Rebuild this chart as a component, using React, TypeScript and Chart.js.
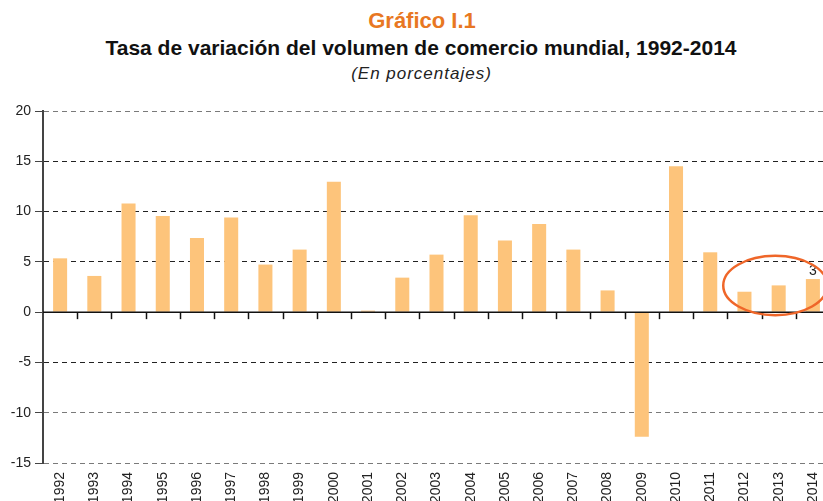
import React, { useEffect, useRef } from "react";
import { Chart, registerables } from "chart.js";

Chart.register(...registerables);

const years: string[] = [
  "1992", "1993", "1994", "1995", "1996", "1997", "1998", "1999", "2000", "2001", "2002", "2003",
  "2004", "2005", "2006", "2007", "2008", "2009", "2010", "2011", "2012", "2013", "2014",
];

const tradeGrowth: number[] = [
  5.35, 3.6, 10.8, 9.55, 7.38, 9.41, 4.73, 6.22, 12.96, 0.15, 3.43, 5.72,
  9.64, 7.12, 8.77, 6.22, 2.16, -12.39, 14.5, 5.95, 2.03, 2.66, 3.29,
];

const yTicks: number[] = [-15, -10, -5, 0, 5, 10, 15, 20];

const labelledIndex = 22;
const highlightCenterIndex = 20.9;
const highlightCenterValue = 2.65;

const FONT = '"Liberation Sans", Arial, Helvetica, sans-serif';

const overlayPlugin = {
  id: "overlay",
  afterDatasetsDraw(chart: any) {
    const { ctx, chartArea, scales } = chart;
    const xs = scales.x;
    const ys = scales.y;
    const y0 = ys.getPixelForValue(0);
    ctx.save();
    // zero line
    ctx.strokeStyle = "#111";
    ctx.lineWidth = 1.5;
    ctx.beginPath();
    ctx.moveTo(chartArea.left, y0);
    ctx.lineTo(chartArea.right, y0);
    ctx.stroke();
    // category ticks on zero line
    for (let i = 0; i < years.length; i++) {
      const xb = (xs.getPixelForValue(i) + xs.getPixelForValue(i + 1)) / 2;
      ctx.beginPath();
      ctx.moveTo(Math.round(xb) + 0.5, y0);
      ctx.lineTo(Math.round(xb) + 0.5, y0 + 7);
      ctx.stroke();
    }
    // data label
    const meta = chart.getDatasetMeta(0);
    const bar = meta.data[labelledIndex];
    if (bar) {
      ctx.fillStyle = "#222";
      ctx.font = `14px ${FONT}`;
      ctx.textAlign = "center";
      ctx.textBaseline = "bottom";
      ctx.fillText(String(Math.round(tradeGrowth[labelledIndex])), bar.x, bar.y - 1);
    }
    // highlight ellipse
    const cx = xs.getPixelForValue(highlightCenterIndex);
    const cy = ys.getPixelForValue(highlightCenterValue);
    const catW = Math.abs(xs.getPixelForValue(1) - xs.getPixelForValue(0));
    const rx = catW * 1.52;
    const ry = Math.abs(ys.getPixelForValue(0) - ys.getPixelForValue(2.95));
    ctx.strokeStyle = "#EF6629";
    ctx.lineWidth = 2.5;
    ctx.beginPath();
    ctx.ellipse(cx, cy, rx, ry, 0, 0, Math.PI * 2);
    ctx.stroke();
    ctx.restore();
  },
};

export default function App() {
  const canvasRef = useRef<HTMLCanvasElement | null>(null);

  useEffect(() => {
    if (!canvasRef.current) return;
    const chart = new Chart(canvasRef.current, {
      type: "bar",
      data: {
        labels: years,
        datasets: [
          {
            data: tradeGrowth,
            backgroundColor: "#FDC47B",
            borderWidth: 0,
            barPercentage: 0.41,
            categoryPercentage: 1,
          },
        ],
      },
      plugins: [overlayPlugin],
      options: {
        animation: false,
        responsive: false,
        maintainAspectRatio: false,
        layout: { padding: { top: 111, right: 10, left: 0, bottom: 0 } },
        plugins: {
          legend: { display: false },
          tooltip: { enabled: false },
          title: { display: false },
        },
        scales: {
          x: {
            type: "category",
            grid: { display: false, drawTicks: false },
            border: { display: false },
            ticks: {
              autoSkip: false,
              maxRotation: 90,
              minRotation: 90,
              padding: 9,
              color: "#222",
              font: { family: FONT, size: 14 },
            },
            afterFit: (scale: any) => {
              scale.height = 47;
            },
          },
          y: {
            min: -15,
            max: 20,
            afterBuildTicks: (scale: any) => {
              scale.ticks = yTicks.map((v) => ({ value: v }));
            },
            grid: {
              drawTicks: true,
              tickLength: 8,
              tickColor: "#444",
              lineWidth: 1,
              color: (c: any) => {
                const v = c.tick ? c.tick.value : null;
                if (v === 0) return "rgba(0,0,0,0)";
                if (v === 20 || v === -10 || v === -15) return "#7a7a7a";
                return "#222";
              },
            },
            border: { display: true, color: "#444", width: 2, dash: [5, 4] },
            ticks: {
              padding: 4,
              color: "#222",
              font: { family: FONT, size: 14 },
            },
            afterFit: (scale: any) => {
              scale.width = 43;
            },
          },
        },
      },
    });
    return () => chart.destroy();
  }, []);

  return (
    <div
      style={{
        position: "fixed",
        left: 0,
        top: 0,
        width: 823,
        height: 501,
        overflow: "hidden",
        background: "#fff",
        fontFamily: FONT,
      }}
    >
      <div
        style={{
          position: "absolute",
          left: 0,
          width: 844,
          top: 10,
          textAlign: "center",
          fontSize: 22,
          lineHeight: 1,
          fontWeight: "bold",
          color: "#E87722",
        }}
      >
        Gráfico I.1
      </div>
      <div
        style={{
          position: "absolute",
          left: 0,
          width: 842,
          top: 37,
          textAlign: "center",
          fontSize: 21,
          lineHeight: 1,
          fontWeight: "bold",
          color: "#111",
          whiteSpace: "nowrap",
        }}
      >
        Tasa de variación del volumen de comercio mundial, 1992-2014
      </div>
      <div
        style={{
          position: "absolute",
          left: 0,
          width: 843,
          top: 64.5,
          textAlign: "center",
          fontSize: 17,
          lineHeight: 1,
          fontStyle: "italic",
          letterSpacing: 1,
          color: "#222",
        }}
      >
        (En porcentajes)
      </div>
      <canvas
        ref={canvasRef}
        width={840}
        height={510}
        style={{ position: "absolute", left: 0, top: 0, width: 840, height: 510 }}
      />
    </div>
  );
}
